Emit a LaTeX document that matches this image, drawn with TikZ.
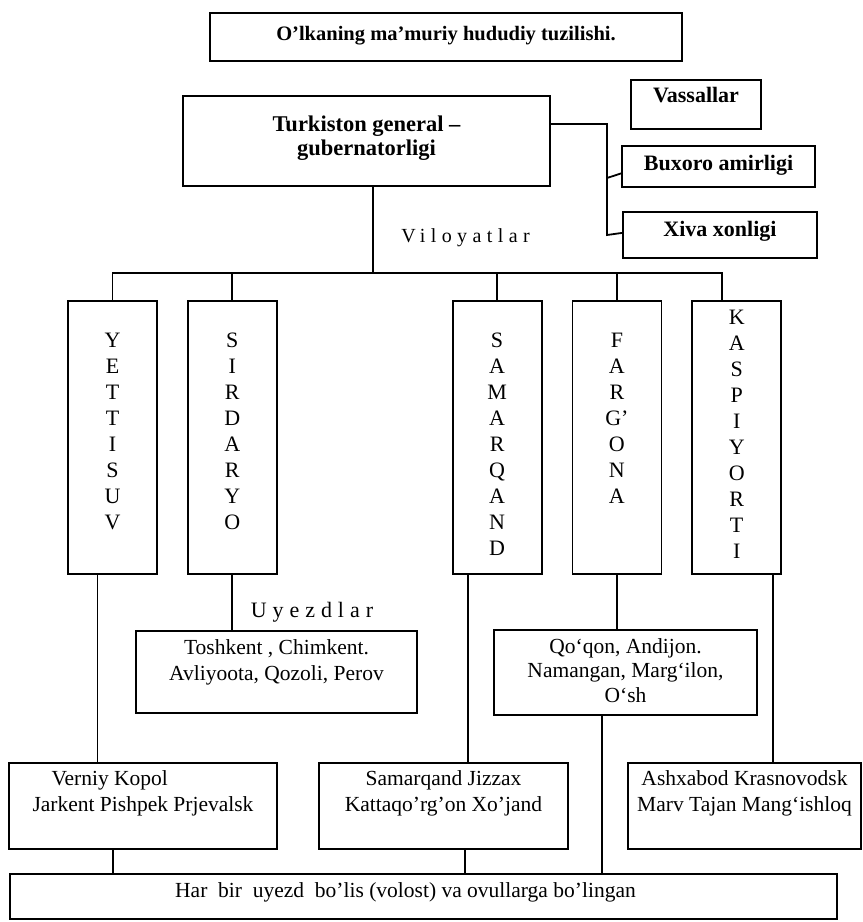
\documentclass[tikz,border=0pt]{standalone}
\usepackage{fontspec}
\setmainfont{Liberation Serif}
\newfontfamily\spaced[LetterSpace=27]{Liberation Serif}
\usepackage{tikz}
\usetikzlibrary{positioning}
\newcommand{\lines}[2][c]{\begin{tabular}[t]{@{}#1@{}}#2\end{tabular}}
\tikzset{
    box/.style={rectangle, draw, line width=1.8pt, inner sep=0pt, anchor=north,
        font=\fontsize{21.5}{26}\selectfont},
    bbox/.style={box, font=\bfseries\fontsize{22}{24}\selectfont},
    column/.style={box, minimum width=89pt, text height=47pt, text depth=226pt,
        font=\fontsize{22}{26}\selectfont},
    link/.style={line width=1.8pt},
    tag/.style={font=\spaced\fontsize{21}{24}\selectfont}
}
\begin{document}
\begin{tikzpicture}[x=1pt,y=-1pt]
    \useasboundingbox (0,0) rectangle (863,922);
    \node[bbox, minimum width=472pt, text height=27.5pt, text depth=20.5pt,
        font=\bfseries\fontsize{20.5}{24}\selectfont] (title) at (446,12)
        {O'lkaning ma'muriy hududiy tuzilishi.};
    \node[bbox, minimum width=367pt, text height=36pt, text depth=54pt,
        font=\bfseries\fontsize{22.5}{24}\selectfont] (turk) at (366.5,95)
        {\lines{Turkiston general --\\gubernatorligi}};
    \node[bbox, minimum width=130pt, text height=23pt, text depth=26pt] (vassal) at (696,79) {Vassallar};
    \node[bbox, minimum width=193pt, text height=25pt, text depth=16pt] (buxoro) at (718.5,145) {Buxoro amirligi};
    \node[bbox, minimum width=194pt, text height=25pt, text depth=21pt] (xiva) at (720,211) {Xiva xonligi};
    \node[tag, font=\spaced\fontsize{20}{24}\selectfont] (vil) at (465.5,238) {Viloyatlar};
    % viloyatlar
    \node[column] (yett) at (112.5,300) {\lines{Y\\E\\T\\T\\I\\S\\U\\V}};
    \node[column] (sird) [right=29pt of yett] {\lines{S\\I\\R\\D\\A\\R\\Y\\O}};
    \node[column] (sam) [right=174pt of sird] {\lines{S\\A\\M\\A\\R\\Q\\A\\N\\D}};
    \node[column] (farg) [right=29pt of sam] {\lines{F\\A\\R\\G'\\O\\N\\A}};
    \node[column, text height=23.3pt, text depth=249.7pt] (kasp) [right=29pt of farg]
        {\lines{K\\A\\S\\P\\I\\Y\\O\\R\\T\\I}};
    % uyezdlar
    \node[tag, font=\spaced\fontsize{22}{24}\selectfont] (uyezd) at (312,612) {Uyezdlar};
    \node[box, minimum width=281pt, text height=23.5pt, text depth=58.5pt] (tosh) at (276.5,630)
        {\lines{Toshkent , Chimkent.\\Avliyoota, Qozoli, Perov}};
    \node[box, minimum width=263pt, text height=23.5pt, text depth=61.5pt,
        font=\fontsize{21.5}{24.5}\selectfont] (qoqon) at (625.5,629)
        {\lines{Qo`qon, Andijon.\\Namangan, Marg`ilon,\\O`sh}};
    \node[box, minimum width=268pt, text height=22.5pt, text depth=63.5pt] (vern) at (143,762)
        {\lines[l]{\hspace*{19pt}Verniy Kopol\\Jarkent Pishpek Prjevalsk}};
    \node[box, minimum width=249pt, text height=22.5pt, text depth=63.5pt] (samd) at (443.5,762)
        {\lines{Samarqand Jizzax\\Kattaqo'rg'on Xo'jand}};
    \node[box, minimum width=233pt, text height=22.5pt, text depth=63.5pt] (ashx) at (744.5,762)
        {\lines{Ashxabod Krasnovodsk\\Marv Tajan Mang`ishloq}};
    \node[box, minimum width=827pt, text height=23.5pt, text depth=21.5pt] (volost) at (423.5,873)
        {Har\ \ bir\ \ uyezd\ \ bo'lis (volost) va ovullarga bo'lingan\hspace*{36pt}};
    % connectors
    \coordinate (bus) at (373,273);
    \coordinate (vas) at (607,235);
    \draw[link] (turk.south -| bus) -- (bus);
    \draw[link] (yett.north) |- ([xshift=-15pt]kasp.north |- bus) -- ([xshift=-15pt]kasp.north);
    \draw[link] (sird.north) -- (sird.north |- bus);
    \draw[link] (sam.north) -- (sam.north |- bus);
    \draw[link] (farg.north) -- (farg.north |- bus);
    \draw[link] ([yshift=17pt]turk.east) -| (vas) -- ([yshift=2pt]xiva.west);
    \draw[link] ([yshift=57pt]vas) -- ([yshift=-7pt]buxoro.west);
    \draw[link] (sird.south) -- (sird.south |- tosh.north);
    \draw[link] (farg.south) -- (farg.south |- qoqon.north);
    \draw[link] ([xshift=-15pt]yett.south) -- ([xshift=-15pt]yett.south |- vern.north);
    \draw[link] ([xshift=-29.5pt]sam.south) -- ([xshift=-29.5pt]sam.south |- samd.north);
    \draw[link] ([xshift=36.5pt]kasp.south) -- ([xshift=36.5pt]kasp.south |- ashx.north);
    \draw[link] ([xshift=-23.5pt]qoqon.south) -- ([xshift=-23.5pt]qoqon.south |- volost.north);
    \draw[link] ([xshift=-30pt]vern.south) -- ([xshift=-30pt]vern.south |- volost.north);
    \draw[link] ([xshift=21.5pt]samd.south) -- ([xshift=21.5pt]samd.south |- volost.north);
\end{tikzpicture}
\end{document}
